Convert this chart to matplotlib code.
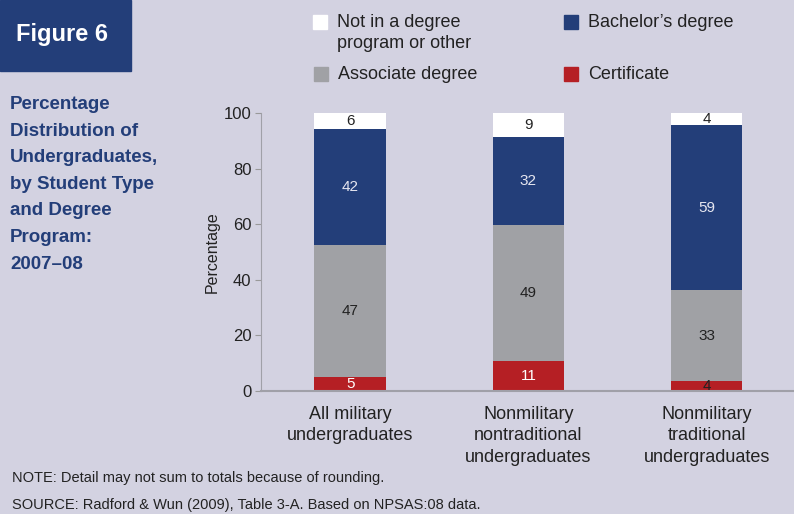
import numpy as np
import matplotlib.pyplot as plt
from matplotlib.patches import Rectangle

plt.rcParams['font.family'] = ['Liberation Sans', 'DejaVu Sans']

# data (percent)
groups = ["All military\nundergraduates",
          "Nonmilitary\nnontraditional\nundergraduates",
          "Nonmilitary\ntraditional\nundergraduates"]
certificate = [5.0, 10.8, 3.6]
associate = [47.4, 48.9, 32.7]
bachelor = [41.8, 31.7, 59.4]
other = [5.8, 8.6, 4.3]

bg = "#d3d2e1"
navy = "#233e79"
red = "#b51f24"
grey = "#a0a1a5"
txt = "#222222"

fig = plt.figure(figsize=(7.94, 5.14), dpi=100, facecolor=bg)
ax = fig.add_axes([261/794, 1-391/514, 1-261/794, 278/514])
ax.set_facecolor(bg)

x = np.arange(len(groups))
w = 0.40
b1 = ax.bar(x, certificate, w, color=red)
bot = np.array(certificate)
b2 = ax.bar(x, associate, w, bottom=bot, color=grey)
bot = bot + associate
b3 = ax.bar(x, bachelor, w, bottom=bot, color=navy)
bot = bot + bachelor
b4 = ax.bar(x, other, w, bottom=bot, color="white")

fmt = lambda v: f"{v:.0f}"
t1 = ax.bar_label(b1, labels=[fmt(v) for v in certificate], label_type="center", color="white", fontsize=11)
t1[2].set_color(txt)
ax.bar_label(b2, labels=[fmt(v) for v in associate], label_type="center", color=txt, fontsize=11)
ax.bar_label(b3, labels=[fmt(v) for v in bachelor], label_type="center", color="#e6e6f0", fontsize=11)
ax.bar_label(b4, labels=[fmt(v) for v in other], label_type="center", color=txt, fontsize=11)

ax.set_xlim(-0.5, 2.49)
ax.set_ylim(0, 100)
ax.set_yticks([0, 20, 40, 60, 80, 100])
ax.set_xticks(x)
ax.set_xticklabels(groups, fontsize=13, color=txt, linespacing=1.32)
ax.tick_params(axis="x", length=0, pad=11)
ax.tick_params(axis="y", length=4, color="#999999", labelsize=12, labelcolor=txt, pad=3)
for s in ["top", "right"]:
    ax.spines[s].set_visible(False)
ax.spines["left"].set_color("#a0a0a8")
ax.spines["bottom"].set_color("#a0a0a8")
ax.spines["bottom"].set_linewidth(1.5)
ax.set_ylabel("Percentage", fontsize=11.5, color=txt, labelpad=3)

# figure tag box
fig.patches.append(Rectangle((0, 1-71/514), 131/794, 71/514, transform=fig.transFigure,
                             color=navy, zorder=0))
fig.text(62/794, 1-34/514, "Figure 6", color="white", fontsize=17, fontweight="bold",
         ha="center", va="center")

fig.text(10/794, 1-96/514, "Percentage\nDistribution of\nUndergraduates,\nby Student Type\nand Degree\nProgram:\n2007\u201308",
         color=navy, fontsize=13.5, fontweight="bold", ha="left", va="top", linespacing=1.74)

# legend
leg = [("Not in a degree\nprogram or other", "white", 313, 22),
       ("Associate degree", grey, 314, 74),
       ("Bachelor\u2019s degree", navy, 564, 22),
       ("Certificate", red, 564, 74)]
for lab, col, lx, ly in leg:
    fig.patches.append(Rectangle((lx/794, 1-(ly+7)/514), 14/794, 14/514,
                                 transform=fig.transFigure, color=col))
    fig.text((lx+24)/794, 1-(ly-8)/514, lab, fontsize=13, color=txt,
             ha="left", va="top", linespacing=1.3)

fig.text(12/794, 1-478/514, "NOTE: Detail may not sum to totals because of rounding.",
         fontsize=10.5, color=txt, va="center")
fig.text(12/794, 1-505/514, "SOURCE: Radford & Wun (2009), Table 3-A. Based on NPSAS:08 data.",
         fontsize=10.5, color=txt, va="center")

fig.savefig("out.png", dpi=100, facecolor=bg)
